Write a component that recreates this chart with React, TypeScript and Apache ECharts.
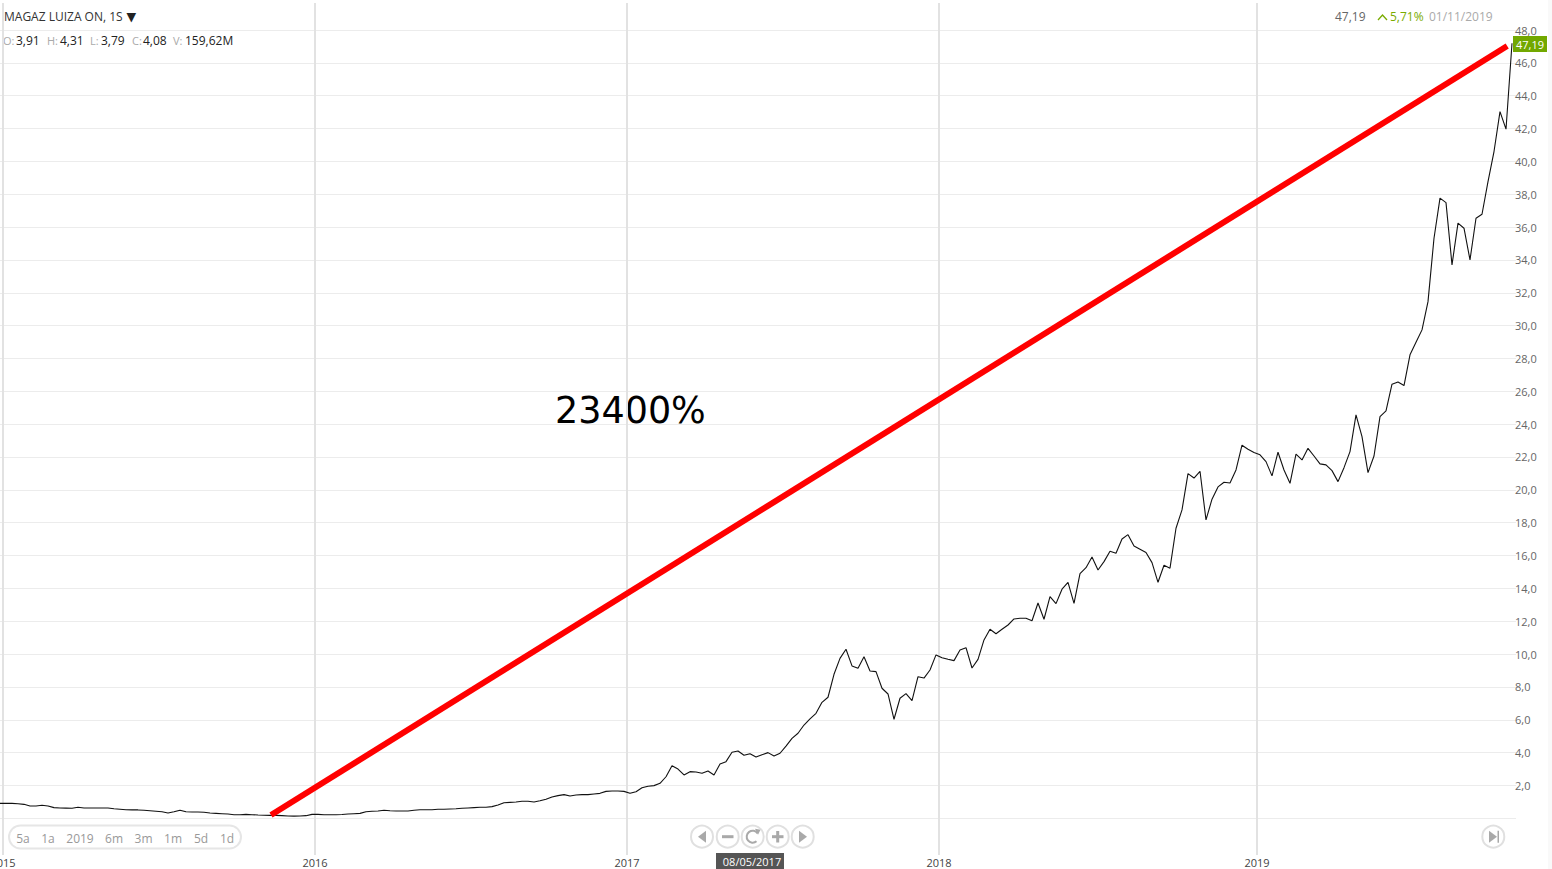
import React, { useEffect, useRef } from "react";
import * as echarts from "echarts";

// Weekly closing prices (one value per week).
const prices2015 = [
  0.91, 0.91, 0.91, 0.89, 0.85, 0.75, 0.75, 0.79, 0.75, 0.65, 0.63, 0.62, 0.61, 0.67, 0.63, 0.63, 0.63, 0.63,
  0.63, 0.58, 0.55, 0.52, 0.51, 0.51, 0.49, 0.46, 0.43, 0.4, 0.32, 0.4, 0.49, 0.4, 0.38, 0.38, 0.37, 0.32, 0.3,
  0.28, 0.26, 0.22, 0.22, 0.24, 0.22, 0.2, 0.19, 0.18, 0.18, 0.16, 0.14, 0.13, 0.14, 0.16,
];
const prices2016 = [
  0.24, 0.24, 0.22, 0.22, 0.22, 0.23, 0.26, 0.28, 0.3, 0.4, 0.43, 0.44, 0.49, 0.46, 0.44, 0.44, 0.44, 0.49, 0.52,
  0.52, 0.52, 0.55, 0.55, 0.57, 0.58, 0.61, 0.63, 0.65, 0.67, 0.67, 0.71, 0.81, 0.95, 0.97, 0.99, 1.04, 1.04, 0.99,
  1.07, 1.16, 1.3, 1.38, 1.44, 1.36, 1.42, 1.44, 1.44, 1.48, 1.52, 1.64, 1.66, 1.66,
];
const prices2017 = [
  1.64, 1.52, 1.62, 1.86, 1.95, 1.99, 2.13, 2.53, 3.2, 3.0, 2.64, 2.84, 2.82, 2.74, 2.88, 2.64, 3.31, 3.45, 4.02,
  4.1, 3.84, 3.93, 3.73, 3.87, 4.0, 3.79, 3.96, 4.4, 4.87, 5.18, 5.68, 6.05, 6.39, 7.06, 7.37, 8.77, 9.74, 10.29,
  9.28, 9.14, 9.84, 8.97, 8.93, 7.92, 7.57, 6.03, 7.31, 7.59, 7.16, 8.62, 8.54, 9.03,
];
const prices2018 = [
  9.95, 9.78, 9.68, 9.6, 10.25, 10.39, 9.15, 9.68, 10.86, 11.51, 11.24, 11.51, 11.77, 12.14, 12.18, 12.18, 12.03,
  13.11, 12.12, 13.5, 13.07, 13.95, 14.37, 13.09, 14.9, 15.26, 15.91, 15.12, 15.63, 16.26, 16.14, 17.01, 17.27,
  16.58, 16.38, 16.18, 15.57, 14.37, 15.41, 15.23, 17.66, 18.78, 20.99, 20.72, 21.13, 18.17, 19.43, 20.18, 20.46,
  20.42, 21.21, 22.72, 22.47,
];
const prices2019 = [
  22.27, 22.13, 21.72, 20.85, 22.29, 21.21, 20.4, 22.17, 21.82, 22.53, 22.06, 21.58, 21.52, 21.17, 20.5, 21.35,
  22.33, 24.56, 23.24, 21.05, 22.06, 24.46, 24.81, 26.43, 26.57, 26.35, 28.22, 28.99, 29.74, 31.46, 35.32, 37.76,
  37.49, 33.7, 36.24, 35.93, 34.0, 36.54, 36.78, 38.77, 40.6, 43.03, 41.96, 47.19,
];
const closePrices = [...prices2015, ...prices2016, ...prices2017, ...prices2018, ...prices2019];

// Year boundaries, in weeks along the x axis.
const yearWeeks = [0.5, 52.5, 104.5, 156.5, 209.5];
const yearLabels = ["2015", "2016", "2017", "2018", "2019"];

// The red annotation: [week, price] at each end.
const trendLine = [
  [45.17, 0.2],
  [251.2, 47.03],
];
const annotation = "23400%";

const instrument = "MAGAZ LUIZA ON, 1S";
const ohlcv = [
  { key: "O:", val: "3,91", kx: 3, vx: 16 },
  { key: "H:", val: "4,31", kx: 47, vx: 60 },
  { key: "L:", val: "3,79", kx: 90, vx: 101 },
  { key: "C:", val: "4,08", kx: 132, vx: 143 },
  { key: "V:", val: "159,62M", kx: 173, vx: 185 },
];
const ranges = [
  { t: "5a", x: 23 },
  { t: "1a", x: 48 },
  { t: "2019", x: 80 },
  { t: "6m", x: 114 },
  { t: "3m", x: 143.5 },
  { t: "1m", x: 173 },
  { t: "5d", x: 201 },
  { t: "1d", x: 227 },
];

const FONT = '"Open Sans"';
const txt = (text: string, x: number, y: number, fill: string, size = 12, align = "left", fam = FONT) => ({
  type: "text",
  x,
  y,
  silent: true,
  style: { text, fill, font: `${size}px ${fam}`, textAlign: align, textVerticalAlign: "middle" },
});

const circleBtn = (cx: number, cy: number) => ({
  type: "circle",
  shape: { cx, cy, r: 11 },
  style: { fill: "#fff", stroke: "#e0e0e0", lineWidth: 2 },
});
const ICON = "#a9a9a9";
const poly = (points: number[][]) => ({ type: "polygon", shape: { points }, style: { fill: ICON } });
const box = (x: number, y: number, width: number, height: number, fill: string, r = 0) => ({
  type: "rect",
  shape: { x, y, width, height, r },
  style: { fill },
});

function buildGraphic() {
  const cy = 836.7;
  return [
    box(1548, 0, 4, 869, "#f9f9f9"),
    txt(instrument, 4, 16.5, "#333", 12),
    txt("▼", 126.5, 16, "#222", 12.5, "left", '"DejaVu Sans"'),
    ...ohlcv.flatMap((o) => [txt(o.key, o.kx, 40.5, "#aaa", 11), txt(o.val, o.vx, 40.5, "#222", 12)]),
    txt("47,19", 1335, 16.5, "#666", 12),
    {
      type: "polyline",
      shape: { points: [[1378, 20], [1382.5, 15], [1387, 20]] },
      style: { stroke: "#7aab00", lineWidth: 1.3, fill: "none" },
    },
    txt("5,71%", 1390, 16.5, "#7aab00", 12),
    txt("01/11/2019", 1429, 16.5, "#aaa", 12),
    box(1513, 36, 34, 16, "#72a800"),
    txt("47,19", 1530, 44, "#fff", 11, "center"),
    txt(annotation, 555, 410.5, "#000", 36.5, "left", '"DejaVu Sans"'),
    {
      type: "rect",
      shape: { x: 9, y: 825.5, width: 232, height: 23, r: 11.5 },
      style: { fill: "#fff", stroke: "#e6e6e6", lineWidth: 2 },
    },
    ...ranges.map((r) => txt(r.t, r.x, 838, "#999", 12, "center")),
    circleBtn(702, cy),
    poly([[706, cy - 6], [706, cy + 6], [698, cy]]),
    circleBtn(727.7, cy),
    box(722, cy - 1.5, 11.5, 3, ICON),
    circleBtn(752.7, cy),
    {
      type: "arc",
      shape: { cx: 752.7, cy, r: 6, startAngle: -0.6, endAngle: -5.4, clockwise: false },
      style: { stroke: ICON, lineWidth: 2, fill: "none" },
    },
    poly([[755, cy - 8], [760.5, cy - 7], [758, cy - 2]]),
    circleBtn(777.7, cy),
    box(772, cy - 1.5, 11.5, 3, ICON),
    box(776.2, cy - 5.7, 3, 11.5, ICON),
    circleBtn(802.7, cy),
    poly([[799, cy - 6], [799, cy + 6], [807, cy]]),
    circleBtn(1493.3, cy),
    poly([[1489, cy - 6], [1489, cy + 6], [1497, cy]]),
    box(1497.5, cy - 6, 1.5, 12, ICON),
    box(716, 853, 68, 16, "#555"),
    txt("08/05/2017", 752, 861, "#fff", 11, "center"),
  ];
}

export default function App() {
  const ref = useRef<HTMLDivElement>(null);
  useEffect(() => {
    const chart = echarts.init(ref.current!, null, { renderer: "svg" });
    const xMax = 1516 / 6;
    chart.setOption({
      animation: false,
      backgroundColor: "#fff",
      grid: [
        { left: 0, top: 30, width: 1516, height: 788.3, containLabel: false, outerBoundsMode: "none" },
        { left: 0, top: 3, width: 1516, height: 852, containLabel: false, outerBoundsMode: "none" },
      ],
      xAxis: [
        { gridIndex: 0, type: "value", min: 0, max: xMax, show: false, splitLine: { show: false } },
        {
          gridIndex: 1,
          type: "value",
          min: 0,
          max: xMax,
          position: "bottom",
          axisLine: { show: false },
          axisTick: { show: false, customValues: yearWeeks },
          splitLine: { show: true, lineStyle: { color: "#e2e2e2", width: 2 } },
          axisLabel: {
            customValues: yearWeeks,
            margin: 2,
            color: "#444",
            fontSize: 11,
            fontFamily: "Open Sans",
            hideOverlap: false,
            showMinLabel: true,
            showMaxLabel: true,
            formatter: (v: number) => yearLabels[yearWeeks.indexOf(v)] ?? "",
          },
        },
      ],
      yAxis: [
        {
          gridIndex: 0,
          type: "value",
          position: "right",
          min: 0,
          max: 48,
          interval: 2,
          axisLine: { show: false },
          axisTick: { show: false },
          splitLine: { show: true, lineStyle: { color: "#ececec", width: 1 } },
          axisLabel: {
            margin: -1,
            color: "#666",
            fontSize: 11,
            fontFamily: "Open Sans",
            lineHeight: 11,
            padding: [0, 0, 3, 0],
            formatter: (v: number) => (v === 0 ? "" : v.toFixed(1).replace(".", ",")),
          },
        },
        { gridIndex: 1, type: "value", min: 0, max: 1, show: false, splitLine: { show: false } },
      ],
      series: [
        {
          type: "line",
          xAxisIndex: 0,
          yAxisIndex: 0,
          data: closePrices.map((v, i) => [i, v]),
          showSymbol: false,
          symbol: "none",
          lineStyle: { color: "#111", width: 1.1 },
          z: 3,
        },
        {
          type: "line",
          xAxisIndex: 0,
          yAxisIndex: 0,
          data: trendLine,
          showSymbol: false,
          symbol: "none",
          lineStyle: { color: "#ff0000", width: 6, cap: "butt" },
          z: 4,
        },
      ],
      graphic: buildGraphic(),
    });
    return () => chart.dispose();
  }, []);
  return <div ref={ref} style={{ position: "fixed", left: 0, top: 0, width: 1552, height: 869 }} />;
}
